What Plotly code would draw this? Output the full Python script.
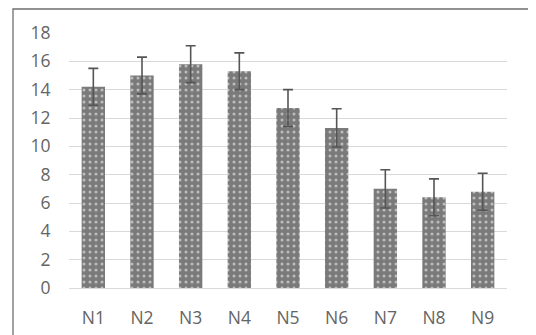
import plotly.graph_objects as go

categories = ["N1", "N2", "N3", "N4", "N5", "N6", "N7", "N8", "N9"]
values = [14.2, 15.0, 15.8, 15.3, 12.7, 11.3, 7.0, 6.4, 6.8]
errors = [1.3, 1.3, 1.3, 1.3, 1.3, 1.35, 1.35, 1.3, 1.3]
y_ticks = [0, 2, 4, 6, 8, 10, 12, 14, 16, 18]

# page body has an 8px margin, so the figure is drawn 8px smaller
OFF = 8
W, H = 536 - OFF, 335 - OFF
L, R, T, B = 69 - OFF, 29, 33 - OFF, 47
pw, ph = W - L - R, H - T - B

fig = go.Figure()
fig.add_trace(go.Bar(
    x=categories, y=values, width=0.48,
    marker=dict(
        color="#7a7a7a",
        line=dict(width=0),
        pattern=dict(shape=".", fgcolor="#ffffff", bgcolor="#7a7a7a",
                     size=6, solidity=0.2, fillmode="overlay"),
    ),
    error_y=dict(type="data", array=errors, visible=True,
                 color="#555555", thickness=1.6, width=5),
))

font = dict(family="Open Sans, Liberation Sans, sans-serif", size=17.5, color="#646464")

fig.update_layout(
    width=W, height=H,
    margin=dict(l=L, r=R, t=T, b=B, pad=0, autoexpand=False),
    paper_bgcolor="white", plot_bgcolor="white",
    showlegend=False, bargap=0.5,
    font=font,
    xaxis=dict(showgrid=False, showline=True, linecolor="#d9d9d9", linewidth=1,
               ticks="outside", ticklen=14, tickcolor="rgba(0,0,0,0)",
               tickfont=font, zeroline=False, automargin=False),
    yaxis=dict(range=[0, 18], tickvals=y_ticks, showgrid=True,
               gridcolor="#d9d9d9", gridwidth=1, zeroline=False,
               showline=False, ticks="outside", ticklen=14,
               tickcolor="rgba(0,0,0,0)", tickfont=font, automargin=False),
)

# outer chart border (reference pixel coords -> paper coords)
def px_to_paper_x(px):
    return (px - OFF - L) / pw

def px_to_paper_y(py):
    return (H - B - (py - OFF)) / ph

fig.add_shape(type="rect", xref="paper", yref="paper",
              x0=px_to_paper_x(13), x1=px_to_paper_x(532),
              y0=px_to_paper_y(345), y1=px_to_paper_y(9),
              line=dict(color="#6e6e6e", width=1.3), layer="above")

fig.write_html("out.html")
